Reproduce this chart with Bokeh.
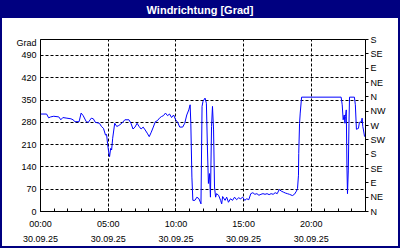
from bokeh.plotting import figure
from bokeh.models import (LinearAxis, FixedTicker, Range1d, ColumnDataSource, Div)
from bokeh.layouts import column
from bokeh.embed import file_html
from bokeh.resources import INLINE

# ---- data ----
hours = [0.00, 0.45, 0.60, 0.75, 0.98, 1.35, 1.50, 1.65, 1.95, 2.25, 2.40, 2.55, 2.85, 3.00, 3.15,
         3.38, 3.53, 3.75, 3.90, 4.05, 4.35, 4.50, 4.65, 4.80, 4.88, 4.95, 5.03, 5.10, 5.18, 5.25,
         5.33, 5.48, 5.63, 5.78, 6.00, 6.23, 6.53, 6.68, 6.83, 6.98, 7.13, 7.28, 7.43, 7.58, 7.73,
         7.88, 8.03, 8.18, 8.33, 8.48, 8.63, 8.78, 8.93, 9.08, 9.23, 9.38, 9.53, 9.68, 9.83, 9.98,
         10.13, 10.28, 10.50, 10.65, 10.80, 10.95, 11.05, 11.10, 11.18, 11.25, 11.40, 11.55, 11.70,
         11.85, 11.93, 12.00, 12.15, 12.25, 12.33, 12.40, 12.48, 12.55, 12.63, 12.70, 12.78, 12.85,
         12.93, 13.00, 13.15, 13.30, 13.38, 13.45, 13.63, 13.75, 13.88, 14.03, 14.18, 14.33, 14.48,
         14.63, 14.78, 14.93, 15.08, 15.23, 15.38, 15.53, 15.68, 15.83, 15.98, 16.13, 16.28, 16.43,
         16.58, 16.73, 16.88, 17.03, 17.18, 17.33, 17.48, 17.63, 17.78, 17.93, 18.08, 18.23, 18.38,
         18.60, 18.75, 18.90, 18.98, 19.05, 19.07, 19.13, 19.18, 19.28, 22.20, 22.28, 22.35, 22.43,
         22.48, 22.52, 22.58, 22.63, 22.67, 22.73, 22.78, 22.82, 23.18, 23.25, 23.33, 23.48, 23.55,
         23.70, 23.75, 23.80, 23.85, 23.93]
direction = [306, 306, 294, 297, 299, 297, 288, 295, 293, 291, 288, 282, 282, 309, 301,
             282, 280, 293, 291, 280, 277, 267, 261, 240, 242, 214, 188, 172, 198, 193,
             230, 277, 267, 270, 277, 288, 288, 277, 259, 265, 277, 267, 259, 265, 256,
             246, 235, 249, 265, 282, 285, 293, 298, 301, 309, 301, 306, 295, 303, 288,
             280, 265, 265, 277, 303, 319, 335, 277, 108, 35, 35, 45, 40,
             24, 330, 346, 356, 340, 193, 88, 119, 45, 267, 330, 256, 77,
             45, 56, 51, 35, 24, 47, 35, 45, 29, 40, 35, 45, 37,
             43, 40, 45, 35, 40, 37, 56, 59, 54, 56, 51, 54, 56,
             54, 56, 53, 56, 54, 59, 56, 69, 64, 61, 58, 56, 54,
             50, 54, 64, 72, 114, 182, 277, 309, 359, 359, 335, 288, 303,
             277, 298, 319, 140, 56, 130, 277, 359, 359, 335, 258, 261, 280,
             282, 293, 267, 256, 235]

x_ticks = [0, 5, 10, 15, 20]
time_labels = ["00:00", "05:00", "10:00", "15:00", "20:00"]
date_labels = ["30.09.25", "30.09.25", "30.09.25", "30.09.25", "30.09.25"]
y_ticks = [0, 70, 140, 210, 280, 350, 420, 490]
compass_ticks = [0, 45, 90, 135, 180, 225, 270, 315, 360, 405, 450, 495, 540]
compass_labels = ["N", "NE", "E", "SE", "S", "SW", "W", "NW", "N", "NE", "E", "SE", "S"]
title_text = "Windrichtung [Grad]"
unit_text = "Grad"

FONT = "Liberation Sans"
FS = "9px"
NAVY = "#000080"
UNIT_POS = 530  # where the unit caption sits on the left axis

p = figure(width=396, height=228, output_backend="svg", toolbar_location=None,
           x_range=Range1d(0, 24), y_range=Range1d(0, 540),
           min_border_left=38, min_border_right=37, min_border_top=21, min_border_bottom=37,
           x_axis_location=None, y_axis_location=None,
           background_fill_color="white", border_fill_color="white",
           margin=(0, 0, 0, 0),
           styles={"box-sizing": "content-box", "margin": "0px", "padding": "0px",
                   "border-left": f"2px solid {NAVY}",
                   "border-right": f"2px solid {NAVY}",
                   "border-bottom": f"2px solid {NAVY}"})
p.outline_line_color = "black"
p.outline_line_width = 1

src = ColumnDataSource(dict(h=hours, d=direction))
p.line("h", "d", source=src, line_color="#0000FF", line_width=1)

# left axis (with unit caption at the top)
yl = LinearAxis(ticker=FixedTicker(ticks=y_ticks + [UNIT_POS]),
                major_label_overrides={UNIT_POS: unit_text})
yl.major_tick_out = 0
yl.major_tick_in = 0
yl.minor_tick_line_color = None
yl.major_label_standoff = 4
yl.major_label_text_font = FONT
yl.major_label_text_font_size = FS
yl.major_label_text_color = "black"
yl.axis_line_color = "black"
p.add_layout(yl, "left")

# right compass axis
yr = LinearAxis(ticker=FixedTicker(ticks=compass_ticks),
                major_label_overrides={t: l for t, l in zip(compass_ticks, compass_labels)})
yr.major_tick_out = 3
yr.major_tick_in = 0
yr.minor_tick_line_color = None
yr.major_label_standoff = 2
yr.major_label_text_font = FONT
yr.major_label_text_font_size = FS
yr.major_label_text_color = "black"
p.add_layout(yr, "right")

# bottom time axis
xb = LinearAxis(ticker=FixedTicker(ticks=x_ticks, minor_ticks=list(range(0, 25))),
                major_label_overrides={t: l for t, l in zip(x_ticks, time_labels)})
xb.major_tick_in = 3
xb.major_tick_out = 0
xb.minor_tick_in = 3
xb.minor_tick_out = 0
xb.major_label_standoff = 7
xb.major_label_text_font = FONT
xb.major_label_text_font_size = FS
xb.major_label_text_color = "black"
p.add_layout(xb, "below")

# bottom date axis
xd = LinearAxis(ticker=FixedTicker(ticks=x_ticks),
                major_label_overrides={t: l for t, l in zip(x_ticks, date_labels)})
xd.axis_line_color = None
xd.major_tick_line_color = None
xd.minor_tick_line_color = None
xd.major_tick_in = 0
xd.major_tick_out = 0
xd.major_label_standoff = 4
xd.major_label_text_font = FONT
xd.major_label_text_font_size = FS
xd.major_label_text_color = "black"
p.add_layout(xd, "below")

p.xgrid.ticker = FixedTicker(ticks=x_ticks)
p.ygrid.ticker = FixedTicker(ticks=y_ticks)
for g in (p.xgrid, p.ygrid):
    g.grid_line_color = "black"
    g.grid_line_dash = "3 2"
    g.grid_line_width = 1

title = Div(text=title_text, width=400, height=18, margin=(0, 0, 0, 0),
            styles={"box-sizing": "border-box", "background-color": NAVY, "color": "white",
                    "margin": "0px", "padding": "0px",
                    "font-family": FONT, "font-weight": "bold", "font-size": "11px",
                    "text-align": "center", "line-height": "20px", "overflow": "hidden"})

layout = column(title, p, spacing=0, margin=(0, 0, 0, 0))

open("out.html", "w").write(file_html(layout, INLINE))
